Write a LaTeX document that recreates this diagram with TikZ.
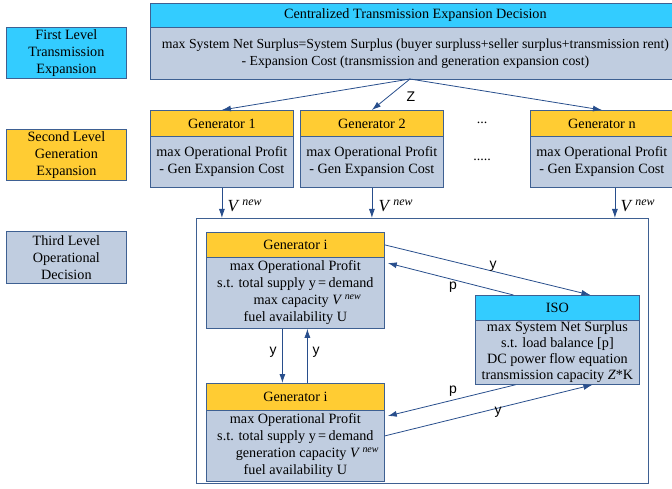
\documentclass[tikz,border=0pt]{standalone}
\usepackage{fontspec}
\setmainfont{Liberation Serif}
\newfontfamily\timesfont{Liberation Serif}
\newfontfamily\arialfont{Liberation Sans}
\usetikzlibrary{arrows.meta}

\definecolor{hdrcyan}{RGB}{51,204,255}
\definecolor{hdryellow}{RGB}{255,204,51}
\definecolor{bodyblue}{RGB}{192,205,224}
\definecolor{edgeblue}{RGB}{62,96,146}
\definecolor{arrowblue}{RGB}{40,78,140}

\newcommand{\Vnew}{\textit{V}\,\textsuperscript{\textit{new}}}

\tikzset{
  stagebox/.style={draw=edgeblue, line width=0.8pt, anchor=north west, align=center,
    inner xsep=2pt, inner ysep=0pt, font=\timesfont\fontsize{14.2}{17}\selectfont},
  headcyan/.style={stagebox, fill=hdrcyan},
  headyellow/.style={stagebox, fill=hdryellow},
  bodybox/.style={stagebox, fill=bodyblue},
  arr/.style={draw=arrowblue, line width=0.8pt, -{Latex[length=9pt,width=6pt]}},
  lbl/.style={font=\arialfont\fontsize{14}{16}\selectfont},
  vlbl/.style={anchor=west, font=\timesfont\fontsize{17}{19}\selectfont},
}

\begin{document}
\begin{tikzpicture}[x=1pt,y=-1pt]
    \useasboundingbox (0,0) rectangle (672,489);

    % level labels
    \node[headcyan, minimum width=120, minimum height=51] (lvlone) at (6,27) {First Level\\Transmission\\Expansion};
    \node[headyellow, minimum width=120, minimum height=51] (lvltwo) at (6,129) {Second Level\\Generation\\Expansion};
    \node[bodybox, minimum width=120, minimum height=52] (lvlthree) at (6,231) {Third Level\\Operational\\Decision};

    % centralized transmission expansion decision
    \node[headcyan, minimum width=530, minimum height=24] (ctehead) at (150,3) {Centralized Transmission Expansion Decision};
    \node[bodybox, minimum width=530, minimum height=52, font=\timesfont\fontsize{13.8}{17}\selectfont] (ctebody) at (150,27) {max System Net Surplus=System Surplus (buyer surpluss+seller surplus+transmission rent)\\- Expansion Cost (transmission and generation expansion cost)};

    % generators, second level
    \node[headyellow, minimum width=143, minimum height=26] (gonehead) at (150,110) {Generator 1};
    \node[bodybox, minimum width=143, minimum height=51] (gonebody) at (150,136) {max Operational Profit\\- Gen Expansion Cost};
    \node[headyellow, minimum width=143, minimum height=26] (gtwohead) at (300,110) {Generator 2};
    \node[bodybox, minimum width=143, minimum height=51] (gtwobody) at (300,136) {max Operational Profit\\- Gen Expansion Cost};
    \node[headyellow, minimum width=143, minimum height=26] (gnhead) at (530,110) {Generator n};
    \node[bodybox, minimum width=143, minimum height=51] (gnbody) at (530,136) {max Operational Profit\\- Gen Expansion Cost};
    \node[font=\timesfont\fontsize{14}{17}\selectfont] (dotsone) at (482,123) {...};
    \node[font=\timesfont\fontsize{14}{17}\selectfont] (dotstwo) at (482,160) {.....};

    % Z to every generator
    \coordinate (fan) at (410,79);
    \draw[arr](fan) to (gonehead.north);
    \draw[arr](fan) to (gtwohead.north);
    \draw[arr](fan) to (gnhead.north);
    \node[lbl] (zlbl) at (411,97) {Z};

    % third level frame
    \node[draw=edgeblue, line width=0.8pt, anchor=north west, minimum width=452, minimum height=265, inner sep=0pt] (opbox) at (196,218) {};

    % V new from every generator
    \draw[arr](gonebody.south) to (gonebody.south |- opbox.north);
    \node[vlbl] (vone) at (224,206) {\Vnew};
    \draw[arr](gtwobody.south) to (gtwobody.south |- opbox.north);
    \node[vlbl] (vtwo) at (375,206) {\Vnew};
    \draw[arr]([xshift=13pt]gnbody.south) to ([xshift=13pt]gnbody.south |- opbox.north);
    \node[vlbl] (vn) at (617,206) {\Vnew};

    % generator i, upper
    \node[headyellow, minimum width=178, minimum height=25] (gihead) at (206,232) {Generator i};
    \node[bodybox, minimum width=178, minimum height=71] (gibody) at (206,257) {max Operational Profit\\s.t. total supply y\,=\,demand\\\hspace*{24pt}max capacity \Vnew\\fuel availability U};

    % ISO
    \node[headcyan, minimum width=164, minimum height=25] (isohead) at (475,295) {ISO};
    \node[bodybox, minimum width=164, minimum height=64, font=\timesfont\fontsize{14.2}{16}\selectfont] (isobody) at (475,320) {max System Net Surplus\\s.t. load balance [p]\\DC power flow equation\\transmission capacity \textit{Z}*K};

    % generator i, lower
    \node[headyellow, minimum width=178, minimum height=27] (gjhead) at (206,383) {Generator i};
    \node[bodybox, minimum width=178, minimum height=71] (gjbody) at (206,410) {max Operational Profit\\s.t. total supply y\,=\,demand\\\hspace*{24pt}generation capacity \Vnew\\fuel availability U};

    % upper generator and ISO
    \draw[arr](gihead.east) to ([xshift=33pt]isohead.north);
    \node[lbl] (yone) at (493,266) {y};
    \draw[arr]([xshift=-44pt]isohead.north) to ([xshift=3pt,yshift=-6pt]gibody.north east);
    \node[lbl] (pone) at (453,287) {p};

    % between the two generators
    \draw[arr]([xshift=-13pt]gibody.south) to ([xshift=-13pt]gjhead.north);
    \node[lbl] (ytwo) at (273,352) {y};
    \draw[arr]([xshift=12pt]gjhead.north) to ([xshift=12pt]gibody.south);
    \node[lbl] (ythree) at (316,352) {y};

    % lower generator and ISO
    \draw[arr]([xshift=-42pt]isobody.south) to ([xshift=3pt,yshift=-6pt]gjbody.north east);
    \node[lbl] (ptwo) at (453,391) {p};
    \draw[arr]([yshift=10pt]gjbody.east) to ([xshift=35pt]isobody.south);
    \node[lbl] (yfour) at (498,412) {y};

\end{tikzpicture}
\end{document}
